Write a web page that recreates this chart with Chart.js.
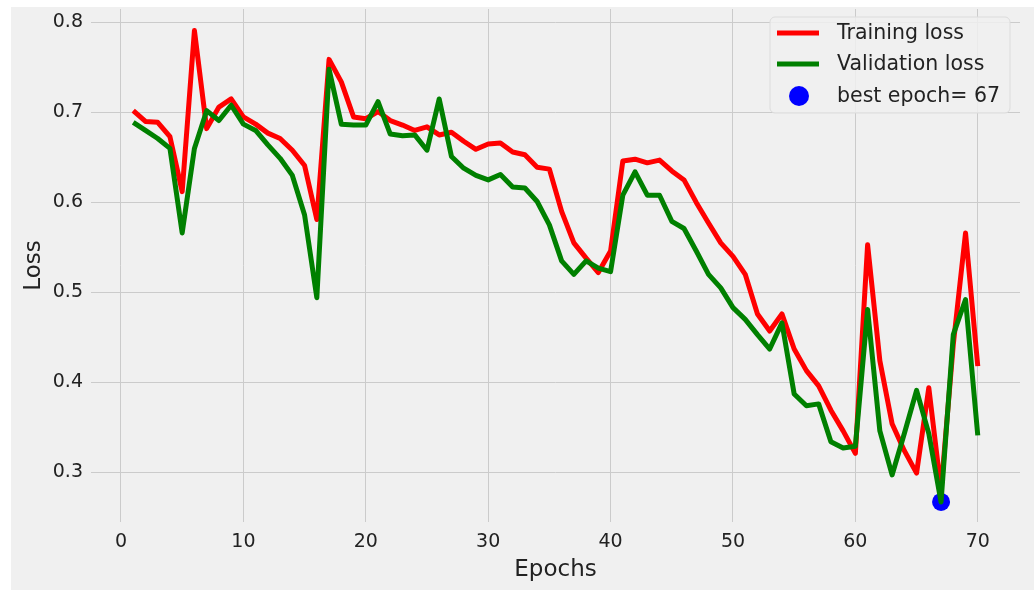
<!DOCTYPE html>
<html>
<head>
<meta charset="utf-8">
<script src="https://cdn.jsdelivr.net/npm/chart.js@4"></script>
<style>
  html, body { margin: 0; padding: 0; background: #ffffff; }
  #wrap { width: 1034px; height: 590px; position: relative; }
</style>
</head>
<body>
<div id="wrap"><canvas id="c" width="1034" height="590"></canvas></div>
<script>
const epochs = [1,2,3,4,5,6,7,8,9,10,11,12,13,14,15,16,17,18,19,20,21,22,23,24,25,26,27,28,29,30,31,32,33,34,35,36,37,38,39,40,41,42,43,44,45,46,47,48,49,50,51,52,53,54,55,56,57,58,59,60,61,62,63,64,65,66,67,68,69,70];

const trainingLoss = [0.702,0.690,0.689,0.673,0.612,0.791,0.682,0.706,0.715,0.695,
  0.687,0.677,0.671,0.658,0.641,0.581,0.759,0.734,0.695,0.693,
  0.701,0.691,0.686,0.680,0.684,0.675,0.678,0.668,0.659,0.665,
  0.666,0.656,0.653,0.639,0.637,0.590,0.555,0.538,0.522,0.546,
  0.646,0.648,0.644,0.647,0.635,0.625,0.600,0.577,0.555,0.540,
  0.520,0.476,0.457,0.476,0.437,0.413,0.396,0.369,0.346,0.321,
  0.553,0.424,0.354,0.324,0.299,0.394,0.280,0.442,0.566,0.418];

const validationLoss = [0.689,0.680,0.671,0.660,0.566,0.660,0.702,0.691,0.708,0.687,
  0.680,0.664,0.649,0.630,0.586,0.494,0.748,0.687,0.686,0.686,
  0.712,0.676,0.674,0.675,0.658,0.715,0.651,0.638,0.630,0.625,
  0.631,0.617,0.616,0.601,0.575,0.535,0.520,0.535,0.527,0.523,
  0.608,0.634,0.608,0.608,0.579,0.571,0.546,0.520,0.505,0.483,
  0.470,0.453,0.437,0.466,0.387,0.374,0.376,0.334,0.327,0.329,
  0.481,0.346,0.297,0.343,0.391,0.343,0.267,0.453,0.492,0.341];

const bestEpoch = [67];
const bestLoss = [0.267];

const xTicks = [0,10,20,30,40,50,60,70];
const yTicks = [0.3,0.4,0.5,0.6,0.7,0.8];

const legendLabels = ['Training loss', 'Validation loss', 'best epoch= 67'];

const FONT = "'DejaVu Sans', sans-serif";

const bgPlugin = {
  id: 'bg',
  beforeDraw(chart) {
    const ctx = chart.ctx;
    ctx.save();
    ctx.fillStyle = '#ffffff';
    ctx.fillRect(0, 0, chart.width, chart.height);
    ctx.fillStyle = '#f0f0f0';
    ctx.fillRect(11, 7, chart.width - 11, chart.height - 7);
    ctx.restore();
  }
};

const legendPlugin = {
  id: 'innerLegend',
  afterDraw(chart) {
    const ctx = chart.ctx;
    const x0 = 770, y0 = 17, w = 240, h = 96, r = 5;
    ctx.save();
    ctx.beginPath();
    ctx.moveTo(x0 + r, y0);
    ctx.arcTo(x0 + w, y0, x0 + w, y0 + h, r);
    ctx.arcTo(x0 + w, y0 + h, x0, y0 + h, r);
    ctx.arcTo(x0, y0 + h, x0, y0, r);
    ctx.arcTo(x0, y0, x0 + w, y0, r);
    ctx.closePath();
    ctx.fillStyle = 'rgba(240,240,240,0.85)';
    ctx.fill();
    ctx.strokeStyle = '#dcdcdc';
    ctx.lineWidth = 1;
    ctx.stroke();

    const ds = chart.data.datasets;
    const rows = [33, 64, 96];
    for (let i = 0; i < 2; i++) {
      ctx.beginPath();
      ctx.moveTo(777, rows[i]);
      ctx.lineTo(819, rows[i]);
      ctx.strokeStyle = ds[i].borderColor;
      ctx.lineWidth = 5;
      ctx.stroke();
    }
    ctx.beginPath();
    ctx.arc(799, rows[2], 10, 0, Math.PI * 2);
    ctx.fillStyle = ds[2].backgroundColor;
    ctx.fill();

    ctx.fillStyle = '#222222';
    ctx.font = '20.5px ' + FONT;
    ctx.textBaseline = 'middle';
    ctx.textAlign = 'left';
    for (let i = 0; i < 3; i++) {
      ctx.fillText(legendLabels[i], 837, rows[i] + 1);
    }
    ctx.restore();
  }
};

new Chart(document.getElementById('c'), {
  type: 'line',
  data: {
    datasets: [
      {
        label: legendLabels[0],
        data: epochs.map((e, i) => ({ x: e, y: trainingLoss[i] })),
        borderColor: '#ff0000',
        backgroundColor: '#ff0000',
        borderWidth: 5,
        borderJoinStyle: 'round',
        pointRadius: 0,
        tension: 0,
        order: 2
      },
      {
        label: legendLabels[1],
        data: epochs.map((e, i) => ({ x: e, y: validationLoss[i] })),
        borderColor: '#008000',
        backgroundColor: '#008000',
        borderWidth: 5,
        borderJoinStyle: 'round',
        pointRadius: 0,
        tension: 0,
        order: 1
      },
      {
        type: 'scatter',
        label: legendLabels[2],
        data: bestEpoch.map((e, i) => ({ x: e, y: bestLoss[i] })),
        backgroundColor: '#0000ff',
        borderColor: '#0000ff',
        pointRadius: 9,
        pointBorderWidth: 0,
        showLine: false,
        order: 3
      }
    ]
  },
  options: {
    responsive: false,
    animation: false,
    maintainAspectRatio: false,
    layout: { padding: { left: 0, top: 7, right: 14, bottom: 0 } },
    plugins: {
      legend: { display: false },
      tooltip: { enabled: false }
    },
    scales: {
      x: {
        type: 'linear',
        min: -2.45,
        max: 73.45,
        afterBuildTicks: (s) => { s.ticks = xTicks.map(v => ({ value: v })); },
        afterFit: (s) => { s.height = 68; s.paddingLeft = 0; s.paddingRight = 0; },
        border: { display: false },
        grid: { color: '#cbcbcb', lineWidth: 1, drawTicks: false },
        ticks: {
          color: '#222222',
          font: { family: FONT, size: 19 },
          padding: 9,
          maxRotation: 0,
          callback: (v) => String(v)
        },
        title: {
          display: true,
          text: 'Epochs',
          color: '#222222',
          font: { family: FONT, size: 23 },
          padding: { top: 0, bottom: 6 }
        }
      },
      y: {
        type: 'linear',
        min: 0.2447,
        max: 0.815,
        afterBuildTicks: (s) => { s.ticks = yTicks.map(v => ({ value: v })); },
        afterFit: (s) => { s.width = 91; s.paddingTop = 0; s.paddingBottom = 0; },
        border: { display: false },
        grid: { color: '#cbcbcb', lineWidth: 1, drawTicks: false },
        ticks: {
          color: '#222222',
          font: { family: FONT, size: 19 },
          padding: 8,
          callback: (v) => v.toFixed(1)
        },
        title: {
          display: true,
          text: 'Loss',
          color: '#222222',
          font: { family: FONT, size: 23 },
          padding: { top: 20, bottom: 0 }
        }
      }
    }
  },
  plugins: [bgPlugin, legendPlugin]
});
</script>
</body>
</html>
